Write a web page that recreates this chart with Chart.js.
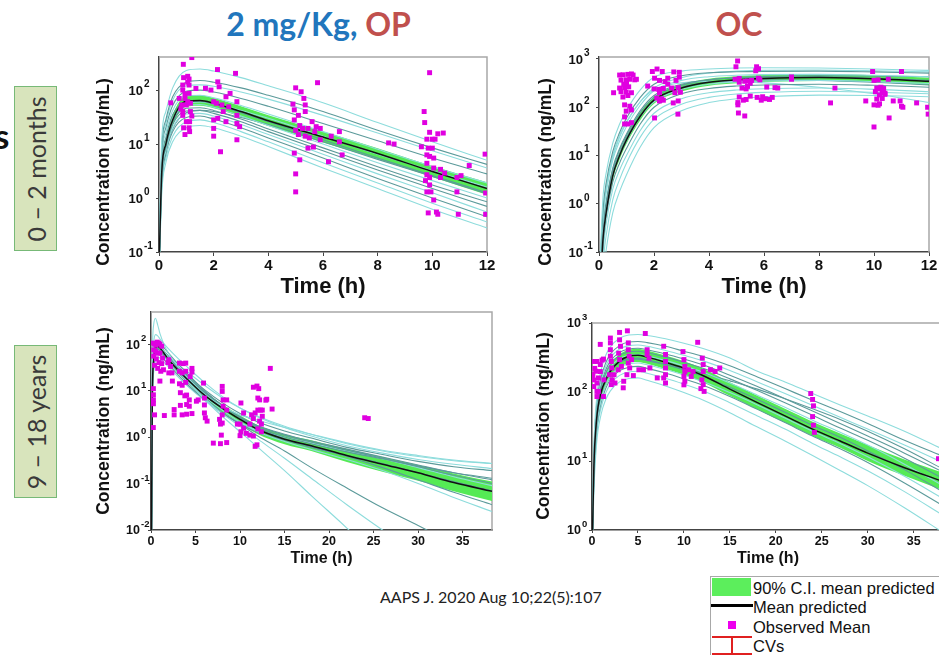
<!DOCTYPE html>
<html>
<head>
<meta charset="utf-8">
<title>PK profiles by age group</title>
<script src="https://cdn.jsdelivr.net/npm/chart.js@4.4.1/dist/chart.umd.min.js"></script>
<style>
  body { margin: 0; width: 939px; height: 655px; overflow: hidden; background: #fff; position: relative; }
  canvas { position: absolute; }
  .txt { position: absolute; white-space: nowrap; line-height: 1; }
  .ytitle { position: absolute; white-space: nowrap; line-height: 1; font: bold 17.5px "Liberation Sans", Arial, sans-serif; color: #111; transform: translate(-50%, -50%) rotate(-90deg); }
  .group { position: absolute; left: 14px; width: 41px; background: #d8e4bc; border: 1.5px solid #77b977; }
  .group span { position: absolute; left: 50%; top: 50%; transform: translate(-50%, -50%) rotate(-90deg); font: 25px Lato, sans-serif; color: #3a3a3a; white-space: nowrap; line-height: 1; }
  .leg { left: 753px; font: 16.5px "Liberation Sans", Arial, sans-serif; color: #111; }
  .box { position: absolute; }
</style>
</head>
<body>

<div class="txt" style="left:318.5px;top:3.5px;transform:translateX(-50%);font:bold 32px Lato, sans-serif;color:#2176bd">2 mg/Kg, <span style="color:#c0504d">OP</span></div>
<div class="txt" style="left:739px;top:3.5px;transform:translateX(-50%);font:bold 32px Lato, sans-serif;color:#c0504d">OC</div>
<div class="txt" style="left:-6px;top:114px;font:bold 35px Lato, sans-serif;color:#111">s</div>

<div class="group" style="top:86px;height:163px"><span>0 – 2 months</span></div>
<div class="group" style="top:345px;height:151px"><span>9 – 18 years</span></div>

<canvas id="p1"></canvas>
<canvas id="p2"></canvas>
<canvas id="p3"></canvas>
<canvas id="p4"></canvas>

<div class="ytitle" style="left:103px;top:171.5px">Concentration (ng/mL)</div>
<div class="ytitle" style="left:545px;top:171.5px">Concentration (ng/mL)</div>
<div class="ytitle" style="left:102.5px;top:421px">Concentration (ng/mL)</div>
<div class="ytitle" style="left:543px;top:426px">Concentration (ng/mL)</div>

<div class="txt" style="left:380px;top:586.5px;font:16px Lato, sans-serif;color:#222">AAPS J. 2020 Aug 10;22(5):107</div>

<div class="box" style="left:710px;top:576px;width:240px;height:90px;border:1px solid #a8a8a8;background:#fff"></div>
<div class="box" style="left:712px;top:578px;width:39px;height:18px;background:#5cee5c"></div>
<div class="box" style="left:711px;top:604px;width:42px;height:3px;background:#000"></div>
<div class="box" style="left:728px;top:621px;width:8px;height:8px;background:#ee00ee"></div>
<div class="box" style="left:712px;top:636px;width:40px;height:2px;background:#e02020"></div>
<div class="box" style="left:730.5px;top:636px;width:2px;height:20px;background:#e02020"></div>
<div class="box" style="left:712px;top:653px;width:40px;height:2px;background:#e02020"></div>
<div class="txt leg" style="top:579px">90% C.I. mean predicted</div>
<div class="txt leg" style="top:598px">Mean predicted</div>
<div class="txt leg" style="top:617.5px">Observed Mean</div>
<div class="txt leg" style="top:637px">CVs</div>

<script>
// ---- 0-2 months, OP (0-12 h) ----
const T1 = [0.01, 0.1, 0.25, 0.5, 1, 1.5, 2, 3, 4, 6, 8, 10, 12];
const mean1 = [0.08, 3, 10, 28, 62, 64, 57, 40, 27, 13.5, 6.7, 3.1, 1.5];
const ciHi1 = [0.1, 3.7, 12.5, 35, 78, 80, 71, 50, 34, 17, 8.4, 3.9, 1.95];
const ciLo1 = [0.06, 2.4, 8, 22, 49, 51, 46, 32, 21.5, 10.7, 5.3, 2.45, 1.15];
const ind1 = [
  [0.1, 12, 40, 110, 230, 245, 225, 170, 120, 58, 25, 11, 5.0],
  [0.1, 8, 28, 75, 140, 150, 140, 110, 80, 40, 18, 8.5, 4.2],
  [0.1, 7, 24, 65, 120, 125, 118, 92, 68, 34, 16, 7.5, 3.6],
  [0.09, 6, 20, 52, 95, 100, 92, 70, 50, 24, 11.5, 5.5, 2.8],
  [0.09, 5, 16, 42, 78, 80, 72, 52, 36, 17, 8, 3.8, 1.9],
  [0.08, 4, 13, 35, 60, 62, 55, 38, 26, 12, 5.5, 2.6, 1.25],
  [0.08, 3.5, 11, 30, 52, 54, 48, 33, 22, 10, 4.5, 2.1, 1.0],
  [0.07, 3, 10, 26, 46, 47, 42, 29, 19, 8.5, 3.8, 1.75, 0.85],
  [0.07, 2.6, 8.5, 23, 41, 42, 37, 26, 17, 7.5, 3.3, 1.5, 0.7],
  [0.06, 2.2, 7.5, 20, 36, 37, 33, 23, 15, 6.5, 2.8, 1.25, 0.55],
  [0.06, 1.8, 6.5, 17, 31, 33, 29, 20, 13, 5.5, 2.3, 1.0, 0.45],
  [0.05, 1.5, 5.5, 14, 26, 28, 25, 17, 11, 4.5, 1.9, 0.8, 0.36],
  [0.05, 1.2, 4.5, 11, 20, 22, 20, 14, 9, 3.6, 1.5, 0.62, 0.28],
  [0.06, 2, 7, 19, 38, 42, 40, 31, 23, 11, 5.2, 2.5, 1.2],
  [0.07, 3, 10, 27, 55, 60, 55, 42, 30, 14, 6.5, 3.2, 1.6]
];
const ind1Dark = [0, 1, 0, 1, 0, 1, 0, 1, 1, 0, 1, 0, 0, 1, 0];
const obs1T = [0.43, 0.89, 1.2, 0.9, 1.05, 1.1, 0.87, 1.1, 0.87, 1.1, 0.74, 0.95, 1.05, 0.83, 1.0, 1.15, 0.87, 1.15, 0.87, 1.0, 1.12, 0.9, 1.1, 0.95, 1.12, 1.35, 0.8, 1.2, 0.95, 1.05,
  2.14, 2.8, 1.9, 1.7, 2.15, 2.2, 2.45, 2.6, 2.0, 2.1, 2.3, 2.85, 2.55, 2.35, 2.85, 2.0, 2.15, 2.45, 2.85, 2.0, 2.95, 2.0, 2.85, 2.25,
  5.0, 5.2, 4.9, 5.3, 5.35, 4.95, 5.1, 4.95, 5.35, 5.15, 5.0, 5.25, 5.1, 5.35, 5.45, 5.6, 5.75, 5.5, 4.95, 5.15, 5.0, 5.0, 5.8, 5.7, 5.9, 5.9, 6.3, 6.6, 6.6, 6.7, 6.2, 5.45, 5.65,
  8.4, 8.6,
  9.9, 9.7, 9.72, 9.9, 10.2, 9.8, 10.0, 10.1, 9.6, 9.85, 10.0, 9.8, 9.9, 10.05, 9.8, 10.05, 10.3, 10.45, 9.8, 9.9, 9.75, 9.9, 10.3, 9.8, 9.95, 10.05, 9.85, 10.15, 10.2, 10.95, 10.9, 10.9, 11.05, 11.35, 11.93, 11.95, 10.4, 11.95];
const obs1C = [58, 300, 400, 170, 180, 160, 124, 124, 100, 87, 70, 70, 61, 53, 53, 57, 40, 40, 34, 26, 26, 20, 20, 15, 17, 107, 45, 33, 85, 140,
  240, 204, 100, 108, 142, 115, 75, 87, 61, 57, 53, 61, 49, 40, 34, 28, 30, 26, 24, 19.5, 21, 14, 12, 7.2,
  110, 93, 55, 70, 53, 43, 34, 28, 40, 22, 18, 19.5, 15, 14, 19.5, 26, 21, 13, 6.8, 5.1, 2.8, 1.3, 137, 17, 12, 19.5, 14, 17, 11, 6.3, 4.7, 8.4, 8.8,
  10.5, 10,
  210, 40, 25, 16.5, 15.5, 12.3, 12.3, 12.3, 8.9, 8.4, 8.4, 6.3, 5.9, 5.5, 4.4, 3.6, 3.4, 2.9, 2.7, 2.4, 2.1, 1.75, 2.4, 1.3, 1.3, 0.92, 0.53, 0.55, 0.5, 0.5, 1.3, 2.4, 2.6, 4.0, 6.5, 0.5, 16, 1.24];

// ---- 0-2 months, OC (0-12 h) ----
const T2 = [0.05, 0.15, 0.25, 0.5, 0.75, 1, 1.5, 2, 3, 4, 5, 6, 8, 10, 12];
const mean2 = [0.02, 0.2, 0.6, 3.8, 10, 21, 65, 140, 250, 330, 370, 395, 415, 390, 345];
const ciHi2 = [0.025, 0.25, 0.75, 4.6, 12, 25, 78, 166, 296, 390, 437, 465, 490, 460, 410];
const ciLo2 = [0.016, 0.16, 0.48, 3.1, 8.3, 17.5, 54, 118, 211, 280, 313, 335, 352, 330, 290];
const ind2 = [
  [0.1, 1.5, 4, 18, 45, 87, 230, 420, 560, 620, 650, 660, 650, 620, 580],
  [0.06, 0.8, 2.5, 12, 30, 60, 160, 300, 450, 520, 545, 555, 560, 540, 510],
  [0.04, 0.5, 1.5, 8, 20, 40, 110, 220, 360, 430, 460, 475, 480, 460, 430],
  [0.03, 0.35, 1.0, 5.5, 14, 28, 85, 175, 300, 370, 405, 420, 430, 400, 360],
  [0.02, 0.22, 0.7, 4, 10, 20, 62, 130, 235, 300, 335, 350, 360, 340, 310],
  [0.015, 0.15, 0.5, 2.8, 7, 14, 45, 100, 190, 245, 275, 290, 300, 285, 260],
  [0.01, 0.1, 0.35, 2, 5, 10, 33, 75, 150, 200, 228, 242, 250, 235, 210],
  [0.006, 0.06, 0.2, 1.2, 3.2, 7, 24, 56, 115, 160, 188, 203, 215, 205, 190],
  [0.05, 0.7, 2, 10, 26, 50, 130, 230, 320, 345, 340, 320, 260, 190, 125],
  [0.025, 0.3, 0.9, 5, 13, 26, 78, 160, 285, 370, 410, 435, 450, 445, 430],
  [0.05, 0.6, 1.8, 9, 24, 48, 130, 250, 410, 510, 560, 585, 590, 570, 540],
  [0.02, 0.25, 0.8, 4.5, 11, 23, 68, 140, 260, 330, 360, 370, 360, 330, 290],
  [0.004, 0.03, 0.1, 0.65, 1.8, 4, 15, 38, 85, 125, 150, 165, 178, 175, 165]
];
const ind2Dark = [0, 1, 0, 1, 0, 1, 0, 0, 0, 1, 0, 1, 0];
const obs2T = [0.53, 0.75, 0.87, 1.05, 1.18, 1.24, 0.8, 0.99, 1.12, 1.3, 0.75, 0.93, 1.08, 0.8, 0.99, 1.18, 0.87, 1.05, 0.93, 1.12, 0.99, 1.18, 0.93, 1.05, 0.93, 1.18, 1.36, 0.9, 1.0,
  1.94, 2.11, 2.3, 2.02, 2.2, 2.4, 2.0, 2.17, 2.34, 2.1, 2.28, 2.2, 2.34, 2.02, 1.77, 2.72, 2.92, 2.5, 2.8, 2.92, 2.64, 2.88, 2.76, 2.96, 2.88, 2.7, 2.87, 2.2, 2.5,
  5.04, 4.98, 5.73, 5.8, 5.7, 4.95, 5.1, 5.2, 5.35, 5.4, 5.1, 5.3, 5.4, 5.55, 5.5, 5.8, 5.85, 5.1, 5.25, 5.35, 5.05, 5.05, 5.07, 5.3, 5.5, 5.75, 5.95, 6.05, 6.2, 5.9, 6.3, 6.1, 6.4, 6.5, 7.0, 7.0, 8.58, 8.42,
  9.95, 10.52, 10.0, 10.15, 10.1, 10.25, 10.35, 10.2, 10.05, 10.3, 10.4, 10.2, 10.4, 10.1, 10.3, 10.0, 10.15, 10.2, 9.7, 10.0, 10.55, 10.7, 11.0, 10.95, 11.05, 11.0, 11.55, 11.95, 11.97];
const obs2C = [200, 465, 470, 480, 490, 465, 365, 370, 380, 370, 250, 255, 265, 210, 205, 200, 163, 175, 112, 105, 83, 88, 63, 45, 45, 48, 380, 300, 310,
  550, 620, 550, 400, 360, 340, 240, 235, 245, 155, 150, 135, 140, 60, 275, 540, 530, 400, 360, 420, 250, 255, 200, 205, 135, 123, 72, 200, 300,
  910, 690, 690, 630, 570, 380, 395, 250, 240, 270, 330, 345, 350, 360, 315, 400, 370, 163, 140, 145, 112, 125, 76, 66, 170, 160, 165, 150, 145, 140, 160, 262, 255, 250, 425, 380, 250, 123,
  550, 380, 360, 370, 250, 260, 245, 240, 210, 200, 195, 180, 185, 148, 152, 112, 110, 118, 135, 39, 60, 135, 550, 135, 100, 105, 123, 100, 72];

// ---- 9-18 years, OP (0-38 h) ----
const T3 = [0.05, 0.15, 0.3, 0.5, 0.75, 1, 1.5, 2, 3, 4, 6, 8, 10, 12, 15, 18, 22, 26, 30, 34, 38.3];
const mean3 = [0.005, 8, 45, 82, 90, 82, 62, 46, 28, 18, 8, 4.2, 2.4, 1.45, 0.9, 0.65, 0.40, 0.26, 0.17, 0.105, 0.068];
const ciHi3 = [0.006, 9.5, 52, 95, 104, 95, 72, 54, 33, 21.5, 9.6, 5.1, 2.95, 1.8, 1.15, 0.85, 0.55, 0.37, 0.25, 0.165, 0.11];
const ciLo3 = [0.004, 6.7, 39, 71, 78, 71, 53, 39, 23.5, 15, 6.6, 3.45, 1.95, 1.15, 0.7, 0.5, 0.29, 0.18, 0.115, 0.068, 0.042];
const ind3 = [
  [0.01, 50, 260, 360, 260, 170, 95, 62, 33, 20, 8.5, 4.6, 3.0, 2.3, 1.6, 1.15, 0.75, 0.52, 0.4, 0.32, 0.27],
  [0.008, 25, 110, 160, 150, 130, 100, 78, 50, 33, 15, 7.5, 4.2, 2.7, 1.6, 1.05, 0.65, 0.45, 0.33, 0.26, 0.21],
  [0.006, 12, 60, 105, 115, 105, 82, 63, 38, 24, 10, 4.8, 2.6, 1.6, 1.0, 0.72, 0.48, 0.34, 0.24, 0.17, 0.13],
  [0.007, 15, 70, 110, 105, 90, 68, 50, 28, 17, 6.5, 2.8, 1.3, 0.6, 0.19, 0.055, 0.011, 0.002, 0.0004, 0.0001, 0.00002],
  [0.006, 10, 50, 85, 90, 80, 62, 46, 27, 16.5, 6.8, 3.2, 1.7, 0.9, 0.35, 0.13, 0.035, 0.01, 0.003, 0.001, 0.0003],
  [0.005, 8, 40, 70, 78, 72, 56, 43, 26, 16, 7, 3.4, 1.9, 1.05, 0.5, 0.22, 0.08, 0.03, 0.0125, 0.005, 0.002],
  [0.005, 9, 48, 85, 92, 84, 64, 49, 30, 19, 8.5, 4.3, 2.4, 1.5, 0.92, 0.62, 0.38, 0.22, 0.12, 0.065, 0.035],
  [0.004, 6, 35, 65, 72, 66, 52, 40, 25, 16, 7.5, 3.8, 2.1, 1.3, 0.8, 0.54, 0.33, 0.19, 0.1, 0.05, 0.025],
  [0.006, 11, 55, 90, 98, 90, 70, 54, 33, 21, 9.5, 4.8, 2.7, 1.7, 1.1, 0.78, 0.52, 0.35, 0.23, 0.15, 0.1],
  [0.004, 5, 30, 55, 62, 58, 46, 36, 22, 14, 6.5, 3.3, 1.9, 1.25, 0.85, 0.6, 0.4, 0.27, 0.17, 0.11, 0.07],
  [0.003, 4, 25, 45, 52, 50, 40, 32, 20, 13, 6.2, 3.3, 2.0, 1.4, 1.0, 0.74, 0.5, 0.34, 0.22, 0.14, 0.09],
  [0.005, 7, 40, 75, 85, 80, 63, 50, 31, 20, 9.2, 4.7, 2.7, 1.75, 1.15, 0.82, 0.55, 0.37, 0.25, 0.17, 0.12],
  [0.005, 8, 45, 80, 88, 82, 66, 54, 37, 26, 13, 7.0, 4.2, 2.8, 1.7, 1.15, 0.72, 0.5, 0.38, 0.31, 0.27],
  [0.005, 7, 42, 75, 84, 78, 62, 50, 33, 22, 10.5, 5.5, 3.2, 2.1, 1.35, 0.95, 0.6, 0.42, 0.3, 0.23, 0.19]
];
const ind3Dark = [0, 0, 1, 0, 0, 1, 1, 0, 1, 1, 0, 1, 0, 1];
const obs3T = [0.26, 0.4, 0.55, 0.7, 0.85, 1.0, 1.2, 0.3, 0.5, 0.7, 1.0, 1.3, 0.3, 0.6, 0.9, 1.2, 0.4, 0.75, 1.1, 1.4, 1.0, 0.27, 0.27, 0.27, 0.27, 0.4, 0.26, 1.5,
  2.0, 2.2, 2.0, 2.35, 2.4, 2.6, 2.6, 1.9,
  3.2, 3.6, 3.9, 3.2, 3.5, 3.9, 3.2, 3.5, 3.9, 4.4, 3.3, 4.0, 3.8, 4.3, 4.3, 3.3, 3.5, 4.0, 4.6, 4.6, 4.6, 4.0,
  5.1, 5.3, 5.9, 6.0, 6.0, 6.0, 6.1, 6.3,
  8.0, 8.0, 8.1, 8.1, 8.0, 8.0, 7.9, 7.8, 8.5, 8.5, 7.0, 7.8, 8.5, 7.7,
  10.1, 10.4, 9.7, 10.0, 10.1, 10.4, 10.0, 10.7,
  11.5, 11.9, 12.1, 12.0, 12.2, 11.3, 11.7, 12.0, 12.3, 11.1, 11.5, 12.2, 12.0, 11.5, 11.1, 11.7, 11.9, 12.5, 12.5, 12.4, 12.4, 13.0, 12.9, 13.4, 13.6,
  24.0, 24.4];
const obs3C = [105, 100, 95, 110, 105, 100, 90, 75, 70, 64, 64, 50, 55, 48, 40, 38, 35, 30, 26, 28, 16, 11, 8.1, 6.3, 5.2, 3.0, 1.6, 2.9,
  46, 33, 24, 24, 16, 3.9, 3.0, 40,
  39, 38, 39, 26, 24, 26, 14, 13, 15, 20, 9, 8, 7.7, 6.3, 4.6, 4.8, 3.0, 3.1, 3.2, 25, 30, 5,
  5.9, 6.3, 14.5, 6.9, 4.9, 3.3, 2.6, 2.2,
  12.3, 9.6, 6.3, 4.6, 3.0, 2.0, 1.1, 1.9, 6.3, 3.8, 0.74, 0.72, 0.76, 2.4,
  5.4, 3.3, 1.9, 1.9, 1.3, 1.55, 1.07, 1.2,
  11.8, 12.5, 11, 6.9, 6.3, 3.0, 3.3, 3.8, 3.8, 1.9, 2.5, 2.2, 1.5, 1.05, 1.1, 0.63, 0.68, 3.8, 2.8, 1.9, 1.3, 6.5, 6.2, 30, 4.0,
  2.6, 2.5];

// ---- 9-18 years, OC (0-38 h) ----
const T4 = [0.05, 0.2, 0.5, 1, 1.5, 2, 3, 4, 5, 6, 8, 10, 12, 15, 18, 21, 24, 27, 30, 34, 38.3];
const mean4 = [0.8, 8, 40, 100, 150, 200, 280, 330, 340, 320, 270, 222, 175, 110, 70, 45, 29, 19.5, 13, 8, 5];
const ciHi4 = [1.0, 10, 50, 125, 188, 250, 350, 410, 425, 400, 338, 278, 220, 138, 88, 57, 37, 25, 17, 10.5, 6.7];
const ciLo4 = [0.64, 6.4, 32, 80, 120, 160, 224, 264, 272, 256, 216, 178, 140, 88, 56, 36, 23, 15.5, 10, 6.1, 3.7];
const ind4 = [
  [1.2, 15, 80, 210, 340, 450, 600, 670, 680, 660, 590, 510, 430, 310, 200, 140, 95, 65, 45, 27, 14.5],
  [1.1, 12, 65, 165, 265, 355, 470, 530, 540, 520, 460, 390, 330, 240, 165, 112, 76, 52, 35, 20, 11.5],
  [1.0, 11, 57, 145, 235, 315, 420, 470, 480, 460, 400, 340, 285, 205, 140, 95, 64, 43, 29, 17, 9.3],
  [0.95, 10, 50, 130, 210, 280, 375, 420, 430, 410, 355, 300, 250, 175, 120, 80, 53, 35, 23, 13, 6.8],
  [0.9, 9, 45, 118, 190, 255, 340, 380, 390, 370, 320, 270, 222, 155, 105, 70, 46, 30, 20, 11, 5.5],
  [0.85, 8, 40, 105, 170, 228, 305, 340, 350, 332, 285, 238, 195, 135, 90, 60, 39, 26, 17, 9, 4.3],
  [0.8, 7, 35, 92, 150, 200, 270, 300, 310, 292, 250, 208, 170, 117, 78, 51, 33, 22, 14, 7.5, 3.5],
  [0.75, 6, 30, 78, 127, 170, 228, 255, 263, 248, 212, 176, 143, 98, 65, 42, 27, 18, 11.5, 6, 2.8],
  [0.7, 5.5, 27, 70, 113, 152, 204, 228, 235, 220, 188, 155, 126, 86, 56, 36, 23, 15, 9.5, 4.8, 2.2],
  [0.65, 4.5, 23, 60, 97, 130, 174, 195, 200, 187, 158, 130, 105, 70, 45, 29, 18, 11.5, 7.2, 3.6, 1.6],
  [0.6, 3.5, 18, 48, 78, 104, 140, 157, 160, 148, 122, 98, 77, 50, 31, 19.5, 12, 7.3, 4.4, 2.1, 0.9],
  [0.9, 9, 42, 105, 165, 215, 275, 300, 300, 285, 250, 218, 188, 145, 110, 80, 57, 40, 27, 15, 7.5]
];
const ind4Dark = [0, 1, 0, 1, 1, 0, 1, 0, 1, 0, 0, 1];
const obs4T = [0.05, 0.2, 0.54, 0.2, 0.54, 0.2, 0.54, 0.9, 0.9, 1.1, 0.7, 1.25, 0.54, 0.9, 1.25, 1.3, 0.1, 0.3, 0.7, 0.4,
  2.0, 2.0, 2.0, 2.0, 2.1, 2.15, 1.9, 2.2, 2.1, 2.4, 2.5,
  3.0, 3.0, 3.1, 2.9, 3.0, 3.2, 2.85, 3.4, 3.45,
  3.85, 3.95, 3.95, 4.05, 3.95, 4.1, 4.3, 4.5, 3.8,
  5.1, 5.6, 5.8, 6.0, 6.0, 6.2, 6.3,
  7.8, 8.0, 8.0, 8.0, 8.0, 7.8, 8.0, 7.1,
  9.9, 10.0, 10.1, 10.1, 10.0, 10.1, 10.0, 10.5, 11.0, 10.8,
  11.5, 12.0, 12.1, 12.1, 11.95, 12.1, 11.85, 12.2, 12.9, 13.4, 13.9,
  23.8, 24.0, 24.1, 24.0, 24.1, 24.2,
  37.7];
const obs4C = [168, 150, 135, 120, 102, 277, 277, 250, 198, 290, 102, 86, 86, 490, 300, 150, 180, 220, 160, 200,
  605, 515, 410, 330, 277, 223, 178, 150, 128, 178, 135,
  730, 570, 460, 365, 295, 235, 210, 115, 143,
  770, 515, 410, 330, 263, 223, 295, 173, 178,
  210, 210, 705, 410, 350, 310, 223,
  460, 350, 277, 223, 178, 160, 135, 160,
  385, 295, 235, 198, 168, 143, 127, 210, 198, 168,
  525, 310, 250, 198, 150, 128, 112, 102, 210, 198, 223,
  95, 78, 63, 44, 33, 26,
  10.8];

// ---- axis ticks ----
const xTicks12 = [0, 2, 4, 6, 8, 10, 12];
const xTicks38 = [0, 5, 10, 15, 20, 25, 30, 35];
const yTicks1 = [0.1, 1, 10, 100];
const yTicks2 = [0.1, 1, 10, 100, 1000];
const yTicks3 = [0.01, 0.1, 1, 10, 100];
const yTicks4 = [1, 10, 100, 1000];

const FONT = '"Liberation Sans", Arial, "DejaVu Sans", sans-serif';
const LIGHT = '#8ddcdc';
const DARK = '#5b9a9a';
const BAND = '#55ea55';
const OBS = '#e000e0';

function pairs(ts, cs) {
  return cs.map((c, i) => ({x: ts[i], y: c}));
}

// light grey top/right edges of the plot box
const frame = {
  id: 'frame',
  beforeDatasetsDraw(chart) {
    const {left, top, right, bottom} = chart.chartArea;
    const c = chart.ctx;
    c.save();
    c.strokeStyle = '#a8a8a8';
    c.lineWidth = 1.5;
    c.beginPath();
    c.moveTo(left, top);
    c.lineTo(right, top);
    c.lineTo(right, bottom);
    c.stroke();
    c.restore();
  }
};

// y tick labels as "10" with a raised exponent, placed on the log scale's ticks
const decadeLabels = {
  id: 'decadeLabels',
  afterDraw(chart, args, opts) {
    const y = chart.scales.y;
    const c = chart.ctx;
    const xr = chart.chartArea.left - opts.gap;
    c.save();
    c.fillStyle = '#111';
    y.ticks.forEach(t => {
      const py = y.getPixelForValue(t.value);
      const e = String(Math.round(Math.log10(t.value)));
      c.font = 'bold ' + opts.ten + 'px ' + FONT;
      c.textAlign = 'right';
      c.textBaseline = 'middle';
      c.fillText('10', xr, py + 1);
      c.font = 'bold ' + opts.exp + 'px ' + FONT;
      c.textAlign = 'left';
      c.textBaseline = 'alphabetic';
      c.fillText(e, xr + 1, py - 3);
    });
    c.restore();
  }
};

function makePanel(id, area, p) {
  const ml = 62, mt = 10, mr = 16, mb = 52;
  const cv = document.getElementById(id);
  const w = area.r - area.l + ml + mr, h = area.b - area.t + mt + mb;
  cv.style.left = (area.l - ml) + 'px';
  cv.style.top = (area.t - mt) + 'px';
  cv.style.width = w + 'px';
  cv.style.height = h + 'px';
  cv.width = w;
  cv.height = h;

  const s = p.big
    ? {xTick: 15, xLen: 4, xTitle: 22, xTitlePad: 4, gap: 16, ten: 13, exp: 10}
    : {xTick: 12.5, xLen: 3, xTitle: 16, xTitlePad: 14, gap: 11, ten: 12.5, exp: 9.5};

  const ds = [];
  ds.push({data: pairs(p.obsT, p.obsC), showLine: false, pointStyle: 'rect', pointRadius: 3.5,
    pointBackgroundColor: OBS, pointBorderWidth: 0, order: 0});
  ds.push({data: pairs(p.t, p.mean), borderColor: '#111', borderWidth: 1.5, pointRadius: 0,
    cubicInterpolationMode: 'monotone', order: 1});
  p.ind.forEach((c, i) => ds.push({data: pairs(p.t, c), borderColor: p.dark[i] ? DARK : LIGHT,
    borderWidth: 1.1, pointRadius: 0, cubicInterpolationMode: 'monotone', order: 2}));
  ds.push({data: pairs(p.t, p.lo), borderColor: 'rgba(0,0,0,0)', pointRadius: 0,
    cubicInterpolationMode: 'monotone', order: 3});
  ds.push({data: pairs(p.t, p.hi), borderColor: 'rgba(0,0,0,0)', pointRadius: 0,
    cubicInterpolationMode: 'monotone', fill: '-1', backgroundColor: BAND, order: 3});

  return new Chart(cv, {
    type: 'line',
    data: {datasets: ds},
    plugins: [frame, decadeLabels],
    options: {
      responsive: false,
      animation: false,
      events: [],
      layout: {padding: {top: mt, right: mr, bottom: 0, left: 0}, autoPadding: false},
      plugins: {
        legend: {display: false},
        tooltip: {enabled: false},
        decadeLabels: {gap: s.gap, ten: s.ten, exp: s.exp}
      },
      scales: {
        x: {
          type: 'linear', min: 0, max: p.xMax,
          afterBuildTicks: sc => { sc.ticks = p.xTicks.map(v => ({value: v})); },
          afterFit: sc => { sc.height = mb; },
          ticks: {color: '#111', font: {family: FONT, weight: 'bold', size: s.xTick}, padding: 1, maxRotation: 0, autoSkip: false},
          grid: {drawOnChartArea: false, tickLength: s.xLen, color: '#444'},
          border: {color: '#444', width: 1.5},
          title: {display: true, text: 'Time (h)', color: '#111',
            font: {family: FONT, weight: 'bold', size: s.xTitle}, padding: {top: 0, bottom: s.xTitlePad}}
        },
        y: {
          type: 'logarithmic', min: p.yMin, max: p.yMax,
          afterBuildTicks: sc => { sc.ticks = p.yTicks.map(v => ({value: v})); },
          afterFit: sc => { sc.width = ml; },
          ticks: {display: false},
          grid: {drawOnChartArea: false, tickLength: 3, color: '#444'},
          border: {color: '#444', width: 1.5}
        }
      }
    }
  });
}

makePanel('p1', {l: 159, t: 57, r: 487, b: 252}, {big: true, t: T1, mean: mean1, hi: ciHi1, lo: ciLo1,
  ind: ind1, dark: ind1Dark, obsT: obs1T, obsC: obs1C, xMax: 12, xTicks: xTicks12, yMin: 0.1, yMax: 410, yTicks: yTicks1});
makePanel('p2', {l: 599, t: 57, r: 929, b: 252}, {big: true, t: T2, mean: mean2, hi: ciHi2, lo: ciLo2,
  ind: ind2, dark: ind2Dark, obsT: obs2T, obsC: obs2C, xMax: 12, xTicks: xTicks12, yMin: 0.1, yMax: 1100, yTicks: yTicks2});
makePanel('p3', {l: 151, t: 312, r: 492, b: 530}, {big: false, t: T3, mean: mean3, hi: ciHi3, lo: ciLo3,
  ind: ind3, dark: ind3Dark, obsT: obs3T, obsC: obs3C, xMax: 38.3, xTicks: xTicks38, yMin: 0.01, yMax: 490, yTicks: yTicks3});
makePanel('p4', {l: 592, t: 323, r: 944, b: 530}, {big: false, t: T4, mean: mean4, hi: ciHi4, lo: ciLo4,
  ind: ind4, dark: ind4Dark, obsT: obs4T, obsC: obs4C, xMax: 38.3, xTicks: xTicks38, yMin: 1, yMax: 1000, yTicks: yTicks4});
</script>
</body>
</html>
